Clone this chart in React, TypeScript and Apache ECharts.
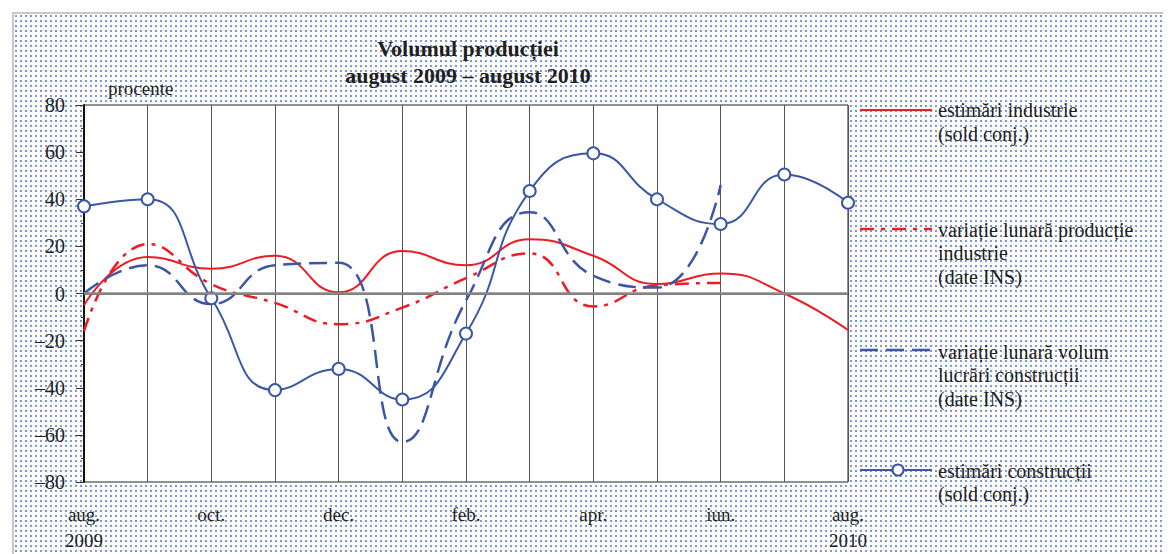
import React, { useEffect, useRef } from "react";
import * as echarts from "echarts";

const months = ["aug.\n2009", "sep.", "oct.", "nov.", "dec.", "ian.", "feb.", "mar.", "apr.", "mai", "iun.", "iul.", "aug.\n2010"];
const yTicks = [-80, -60, -40, -20, 0, 20, 40, 60, 80];

const industryEstimates = [-5, 15.5, 10.5, 16, 0.5, 18, 12, 23, 16, 4, 8.5, 0, -15.5];
const industryMonthly = [-16, 21, 4, -4, -13, -6, 6.5, 17, -5.5, 3.5, 4.5, null, null];
const constructionMonthly = [0, 12, -4.5, 12, 13, -63, -3, 34.5, 7.5, 2.5, 46, null, null];
const constructionEstimates = [37, 40, -2, -41, -32, -45, -17, 43.5, 59.5, 40, 29.5, 50.5, 38.5];

const seriesNames = [
  "estimări industrie\n(sold conj.)",
  "variație lunară producție\nindustrie\n(date INS)",
  "variație lunară volum\nlucrări construcții\n(date INS)",
  "estimări construcții\n(sold conj.)",
];

const RED = "#ed1c24";
const BLUE = "#3a56a5";
const FONT = "Liberation Serif";
const TXT = "#231f20";
const SMOOTH = 0.5;

export default function App() {
  const ref = useRef<HTMLDivElement>(null);

  useEffect(() => {
    if (!ref.current) return;
    const chart = echarts.init(ref.current, null, { renderer: "svg" });
    const legendText = (x: number, y: number, text: string) => ({
      type: "text",
      x,
      y,
      style: { text, font: `20px "${FONT}"`, fill: TXT, lineHeight: 23.5, verticalAlign: "top", align: "left" },
    });
    chart.setOption({
      animation: false,
      grid: { left: 76, right: 323, top: 97, bottom: 72, show: true, backgroundColor: "#fff", borderColor: "#222", borderWidth: 1 },
      xAxis: {
        type: "category",
        boundaryGap: false,
        data: months,
        axisLine: { lineStyle: { color: "#222", width: 1.5 } },
        axisTick: { show: false },
        splitLine: { show: true, interval: 0, lineStyle: { color: "#555", width: 1 } },
        axisLabel: { interval: 1, fontFamily: FONT, fontSize: 19, color: TXT, lineHeight: 26, margin: 19 },
      },
      yAxis: {
        type: "value",
        min: yTicks[0],
        max: yTicks[yTicks.length - 1],
        interval: 20,
        axisLine: { show: true, lineStyle: { color: "#111", width: 2 } },
        axisTick: { show: true, length: 8, lineStyle: { color: "#333", width: 1 } },
        minorTick: { show: true, splitNumber: 2, length: 3, lineStyle: { color: "#333", width: 1 } },
        splitLine: { show: false },
        axisLabel: {
          fontFamily: FONT,
          fontSize: 20,
          color: TXT,
          margin: 19,
          formatter: (v: number) => (v < 0 ? "–" + Math.abs(v) : String(v)),
        },
      },
      series: [
        {
          name: seriesNames[0],
          type: "line",
          data: industryEstimates,
          smooth: SMOOTH,
          showSymbol: false,
          lineStyle: { color: RED, width: 2 },
          itemStyle: { color: RED },
          markLine: {
            silent: true,
            symbol: "none",
            label: { show: false },
            lineStyle: { color: "#888", width: 2.5, type: "solid" },
            data: [{ yAxis: 0 }],
          },
        },
        {
          name: seriesNames[1],
          type: "line",
          data: industryMonthly,
          smooth: SMOOTH,
          showSymbol: false,
          lineStyle: { color: RED, width: 2.5, type: [14, 7, 4, 7] },
          itemStyle: { color: RED },
        },
        {
          name: seriesNames[2],
          type: "line",
          data: constructionMonthly,
          smooth: SMOOTH,
          showSymbol: false,
          lineStyle: { color: BLUE, width: 2.5, type: [18, 8] },
          itemStyle: { color: BLUE },
        },
        {
          name: seriesNames[3],
          type: "line",
          data: constructionEstimates,
          smooth: SMOOTH,
          symbol: "circle",
          symbolSize: 12,
          lineStyle: { color: BLUE, width: 2 },
          itemStyle: { color: "#fff", borderColor: BLUE, borderWidth: 2 },
        },
      ],
      graphic: [
        { type: "text", x: 460, y: 40, style: { text: "Volumul producției", font: `bold 22px "${FONT}"`, fill: TXT, align: "center", verticalAlign: "middle" } },
        { type: "text", x: 460, y: 67, style: { text: "august 2009 – august 2010", font: `bold 22px "${FONT}"`, fill: TXT, align: "center", verticalAlign: "middle" } },
        { type: "text", x: 100, y: 80, style: { text: "procente", font: `19px "${FONT}"`, fill: TXT, align: "left", verticalAlign: "middle" } },
        { type: "line", shape: { x1: 852, y1: 102, x2: 924, y2: 102 }, style: { stroke: RED, lineWidth: 2 } },
        legendText(930, 90.25, seriesNames[0]),
        { type: "line", shape: { x1: 852, y1: 221, x2: 924, y2: 221 }, style: { stroke: RED, lineWidth: 2.5, lineDash: [14, 7, 4, 7] } },
        legendText(930, 210, seriesNames[1]),
        { type: "line", shape: { x1: 852, y1: 342, x2: 924, y2: 342 }, style: { stroke: BLUE, lineWidth: 2.5, lineDash: [18, 8] } },
        legendText(930, 332, seriesNames[2]),
        { type: "line", shape: { x1: 852, y1: 462, x2: 924, y2: 462 }, style: { stroke: BLUE, lineWidth: 2 } },
        { type: "circle", shape: { cx: 890, cy: 462, r: 5.5 }, style: { fill: "#fff", stroke: BLUE, lineWidth: 2 } },
        legendText(930, 451, seriesNames[3]),
      ],
    });
    return () => chart.dispose();
  }, []);

  return (
    <div style={{ position: "relative", width: 1163, height: 546, background: "#fff", overflow: "hidden" }}>
      <div
        style={{
          position: "absolute",
          left: 4,
          top: 4,
          right: 0,
          bottom: 0,
          borderLeft: "2px solid #c8c8c8",
          borderTop: "2px solid #c8c8c8",
          backgroundColor: "#fff",
          backgroundImage: "radial-gradient(circle at 2px 2px, #8197d2 0.9px, rgba(255,255,255,0) 1.5px)",
          backgroundSize: "5px 5px",
        }}
      />
      <div ref={ref} style={{ position: "absolute", left: 0, top: 0, width: 1163, height: 546 }} />
    </div>
  );
}
